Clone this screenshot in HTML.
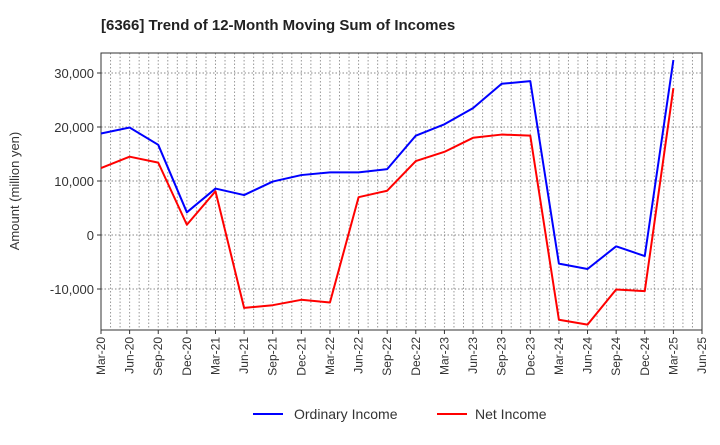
<!DOCTYPE html>
<html><head><meta charset="utf-8"><style>body{margin:0;background:#fff}svg text{font-family:"Liberation Sans",sans-serif}</style></head>
<body>
<svg id="chart" width="720" height="440" xmlns="http://www.w3.org/2000/svg">
<text x="101" y="30" font-size="15" font-weight="bold" fill="#222">[6366]  Trend of 12-Month Moving Sum of Incomes</text>
<g id="grid"></g><g id="axes"></g><g id="series"></g>
<text transform="translate(19,191) rotate(-90)" text-anchor="middle" font-size="13" fill="#333">Amount (million yen)</text>
<g>
<line x1="253" y1="414" x2="283" y2="414" stroke="#0000ff" stroke-width="2"/>
<text x="294" y="419" font-size="14" fill="#333">Ordinary Income</text>
<line x1="437" y1="414" x2="467" y2="414" stroke="#ff0000" stroke-width="2"/>
<text x="475" y="419" font-size="14" fill="#333">Net Income</text>
</g>
</svg>
<script>
const categories=["Mar-20","Jun-20","Sep-20","Dec-20","Mar-21","Jun-21","Sep-21","Dec-21","Mar-22","Jun-22","Sep-22","Dec-22","Mar-23","Jun-23","Sep-23","Dec-23","Mar-24","Jun-24","Sep-24","Dec-24","Mar-25","Jun-25"];
const ordinaryIncome=[18800,19900,16700,4200,8600,7400,9900,11100,11600,11600,12200,18400,20500,23500,28000,28500,-5300,-6300,-2100,-3900,32400];
const netIncome=[12400,14500,13400,1900,8100,-13500,-13000,-12000,-12500,7000,8200,13700,15400,18000,18600,18400,-15700,-16600,-10100,-10400,27200];
const yTicks=[-10000,0,10000,20000,30000];
const yTickLabels=["-10,000","0","10,000","20,000","30,000"];
const NS="http://www.w3.org/2000/svg";
const L=101,R=702,T=53,B=330;
const step=(R-L)/(categories.length-1);
const x=i=>L+i*step;
const y=v=>235-v*0.0054;
function mk(tag,attrs,parent){const e=document.createElementNS(NS,tag);for(const k in attrs)e.setAttribute(k,attrs[k]);parent.appendChild(e);return e;}
const grid=document.getElementById('grid'),axes=document.getElementById('axes'),series=document.getElementById('series');
for(let m=1;m<(categories.length-1)*3;m++){const gx=L+m*step/3;const g=mk('line',{x1:gx,x2:gx,y1:T,y2:B,stroke:'#999','stroke-dasharray':'1.5,2','stroke-width':1},grid);

}
yTicks.forEach((v,i)=>{const g=mk('line',{x1:L,x2:R,y1:y(v),y2:y(v),stroke:'#888','stroke-dasharray':'1.5,2','stroke-width':1},grid);


const t=mk('text',{x:L-7,y:y(v)+5,'text-anchor':'end','font-size':'13',fill:'#333'},axes);t.textContent=yTickLabels[i];


mk('line',{x1:L-4,x2:L,y1:y(v),y2:y(v),stroke:'#333'},axes);});
const frame=mk('rect',{x:L,y:T,width:R-L,height:B-T,fill:'none',stroke:'#333','stroke-width':1},axes);


categories.forEach((c,i)=>{mk('line',{x1:x(i),x2:x(i),y1:B,y2:B+4,stroke:'#333'},axes);
const t=mk('text',{transform:`translate(${x(i)+4},${B+7}) rotate(-90)`,'text-anchor':'end','font-size':'12',fill:'#333'},axes);t.textContent=c;

});
function line(data,color,name){const p=mk('polyline',{points:data.map((v,i)=>x(i)+','+y(v)).join(' '),fill:'none',stroke:color,'stroke-width':2,'stroke-linejoin':'round'},series);

}
line(ordinaryIncome,'#0000ff','ordinary-income-line');
line(netIncome,'#ff0000','net-income-line');
</script>
</body></html>
